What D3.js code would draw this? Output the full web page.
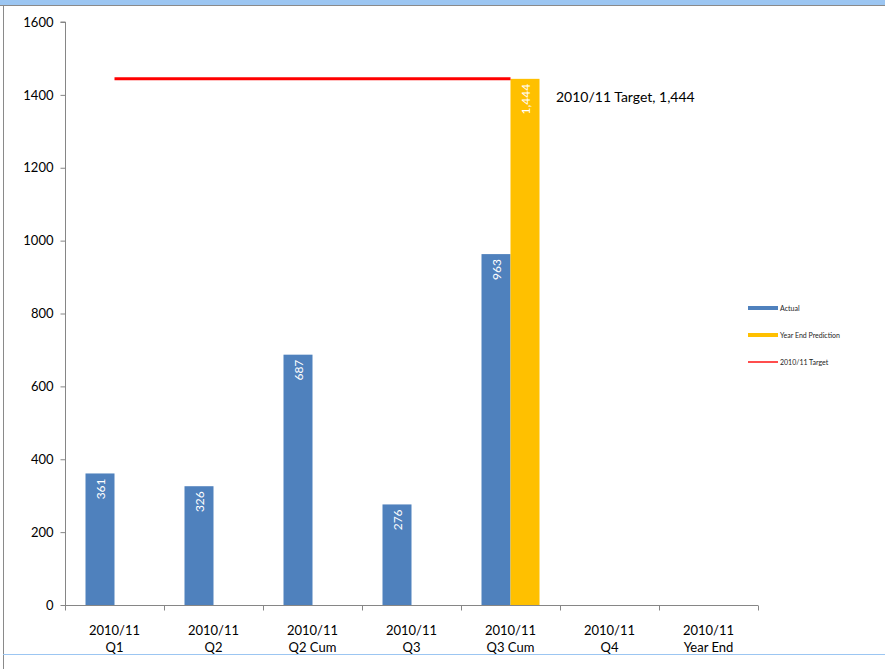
<!DOCTYPE html>
<html>
<head>
<meta charset="utf-8">
<script src="https://cdn.jsdelivr.net/npm/d3@7"></script>
<style>
  body { margin: 0; background: #fff; }
  svg { display: block; font-family: Lato, "Open Sans", sans-serif; }
</style>
</head>
<body>
<script>
// chart data
var categories = ["2010/11|Q1", "2010/11|Q2", "2010/11|Q2 Cum", "2010/11|Q3", "2010/11|Q3 Cum", "2010/11|Q4", "2010/11|Year End"];
var actual = [361, 326, 687, 276, 963, null, null];
var prediction = [null, null, null, null, 1444, null, null];
var target = [1444, 1444, 1444, 1444, 1444, null, null];
var yTicks = [0, 200, 400, 600, 800, 1000, 1200, 1400, 1600];
var seriesNames = ["Actual", "Year End Prediction", "2010/11 Target"];

var W = 885, H = 669;
var svg = d3.select("body").append("svg").attr("width", W).attr("height", H);

// window frame bits
svg.append("rect").attr("x", 0).attr("y", 0).attr("width", W).attr("height", 5).attr("fill", "#9cc6f2");
svg.append("line").attr("x1", 0).attr("x2", W).attr("y1", 5.5).attr("y2", 5.5).attr("stroke", "#8a8a8a");
svg.append("line").attr("x1", 3.5).attr("x2", 3.5).attr("y1", 5).attr("y2", H).attr("stroke", "#8a8a8a");
svg.append("line").attr("x1", 3).attr("x2", W).attr("y1", 654.5).attr("y2", 654.5).attr("stroke", "#9cc6f2");

var x = d3.scaleBand().domain(categories).range([65, 758]);
var y = d3.scaleLinear().domain([0, 1600]).range([605, 22]);
var barW = 29;

// y axis
var yAxis = svg.append("g").attr("transform", "translate(65.5,0)")
  .call(d3.axisLeft(y).tickValues(yTicks).tickSize(5).tickPadding(7).tickFormat(d3.format("d")));
yAxis.select(".domain").attr("stroke", "#868686").attr("d", "M-5," + y(1600) + "H0V" + y(0));
yAxis.selectAll(".tick line").attr("stroke", "#868686");
yAxis.selectAll("text").attr("font-size", 13).attr("fill", "#000").attr("font-family", "Lato, sans-serif");

// x axis
var xg = svg.append("g").attr("transform", "translate(0,605.5)");
xg.append("line").attr("x1", 65).attr("x2", 758).attr("stroke", "#868686");
var bounds = categories.map(function (c) { return x(c); }).concat([x.range()[1]]);
xg.selectAll(".xt").data(bounds).enter().append("line")
  .attr("x1", function (d) { return Math.round(d) + 0.5; })
  .attr("x2", function (d) { return Math.round(d) + 0.5; })
  .attr("y1", 0).attr("y2", 5).attr("stroke", "#868686");
categories.forEach(function (c) {
  var parts = c.split("|");
  var cx = x(c) + x.bandwidth() / 2;
  parts.forEach(function (p, i) {
    xg.append("text").attr("x", cx).attr("y", 29 + i * 17)
      .attr("text-anchor", "middle").attr("font-size", 13).text(p);
  });
});

function center(c) { return x(c) + x.bandwidth() / 2; }

// actual bars
var bars = svg.append("g");
categories.forEach(function (c, i) {
  if (actual[i] != null) {
    bars.append("rect").attr("x", center(c) - barW).attr("width", barW)
      .attr("y", y(actual[i])).attr("height", y(0) - y(actual[i])).attr("fill", "#4f81bd");
    bars.append("text")
      .attr("transform", "translate(" + (center(c) - barW / 2 + 4.5) + "," + (y(actual[i]) + 5) + ") rotate(-90)")
      .attr("text-anchor", "end").attr("font-size", 12).attr("fill", "#fff").text(d3.format(",")(actual[i]));
  }
  if (prediction[i] != null) {
    bars.append("rect").attr("x", center(c)).attr("width", barW)
      .attr("y", y(prediction[i])).attr("height", y(0) - y(prediction[i])).attr("fill", "#ffc000");
    bars.append("text")
      .attr("transform", "translate(" + (center(c) + barW / 2 + 4.5) + "," + (y(prediction[i]) + 5) + ") rotate(-90)")
      .attr("text-anchor", "end").attr("font-size", 12).attr("fill", "#fff").text(d3.format(",")(prediction[i]));
  }
});

// target line
var tData = categories.map(function (c, i) { return { c: c, v: target[i] }; }).filter(function (d) { return d.v != null; });
svg.append("path").datum(tData)
  .attr("d", d3.line().x(function (d) { return center(d.c); }).y(function (d) { return y(d.v); }))
  .attr("fill", "none").attr("stroke", "#ff0000").attr("stroke-width", 3);
svg.append("text").attr("x", 556).attr("y", 102).attr("font-size", 14)
  .text("2010/11 Target, " + d3.format(",")(target[4]));

// legend
var legColors = ["#4f81bd", "#ffc000", "#ff4d4d"];
var leg = svg.append("g").attr("transform", "translate(748,308)");
seriesNames.forEach(function (n, i) {
  leg.append("rect").attr("x", 0).attr("y", i * 27 - (i == 2 ? 1 : 2)).attr("width", 30).attr("height", i == 2 ? 2 : 4)
    .attr("fill", legColors[i]);
  leg.append("text").attr("x", 32).attr("y", i * 27 + 2.5).attr("font-size", 7).attr("fill", "#222").text(n);
});
</script>
</body>
</html>
